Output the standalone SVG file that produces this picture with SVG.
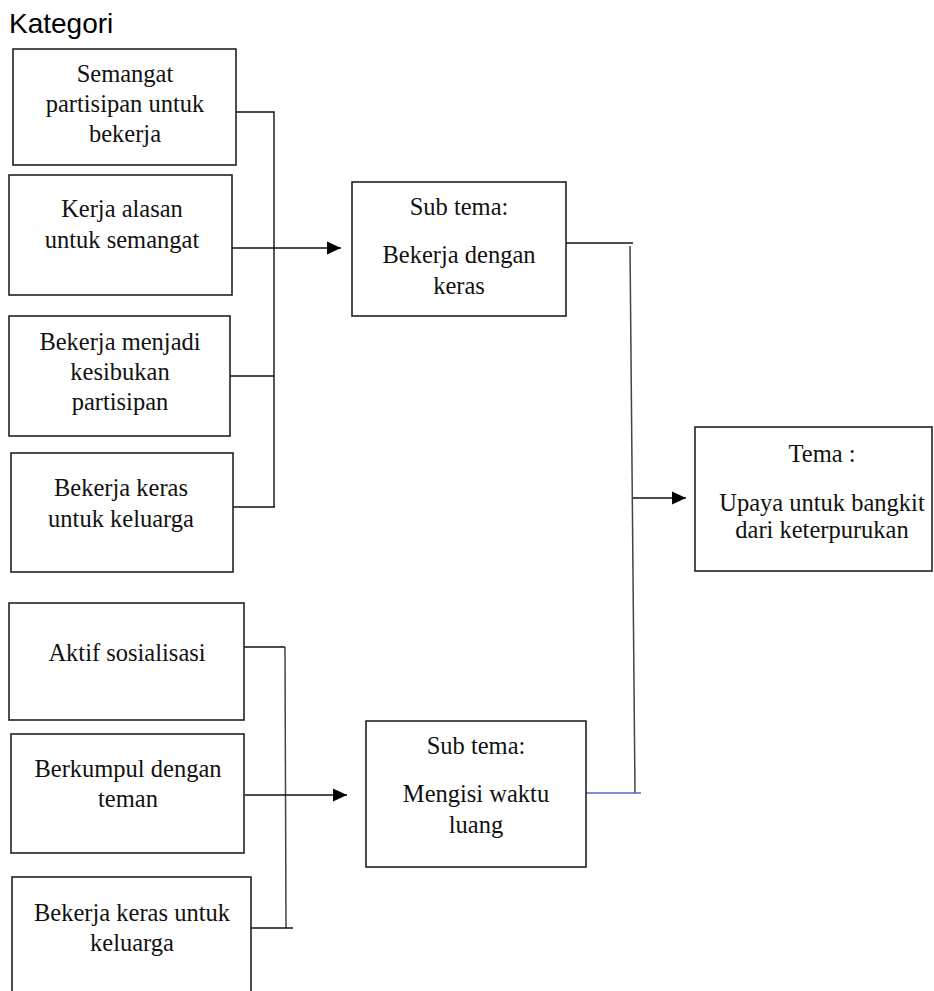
<svg xmlns="http://www.w3.org/2000/svg" width="934" height="991" viewBox="0 0 934 991">
<defs>
<marker id="ah" markerUnits="userSpaceOnUse" markerWidth="14" markerHeight="14" refX="14" refY="7" orient="auto">
<path d="M0,0.5 L14,7 L0,13.5 Z" fill="#000"/>
</marker>
<style>
.box{fill:#fff;stroke:#222;stroke-width:1.6}
.t{font-family:"Liberation Serif","Times New Roman",serif;font-size:24.5px;fill:#111;text-anchor:middle}
.c{fill:none;stroke:#111;stroke-width:1.4}
.g{fill:none;stroke:#444;stroke-width:1.5}
.blue{fill:none;stroke:#4472C4;stroke-width:1.4}
.h{font-family:"Liberation Sans",Arial,sans-serif;font-size:28px;fill:#000}
</style>
</defs>
<rect width="934" height="991" fill="#fff"/>
<text class="h" x="9" y="33">Kategori</text>

<g id="connectors">
<path class="c" d="M232,112 H274 V507"/>
<path class="c" d="M230,376 H274"/>
<path class="c" d="M232,507 H275"/>
<path class="c" d="M231,248 H341" marker-end="url(#ah)"/>
<path class="c" d="M566,243 H633"/>
<path class="g" d="M630,246 L635,793"/>
<path class="blue" d="M586,793 H641"/>
<path class="c" d="M633,498 H686" marker-end="url(#ah)"/>
<path class="c" d="M244,647 H285"/>
<path class="g" d="M285,647 L286,928"/>
<path class="c" d="M251,928 H293"/>
<path class="c" d="M245,795 H347" marker-end="url(#ah)"/>
</g>

<g id="k1">
<rect class="box" x="13" y="49" width="223" height="116"/>
<text class="t" x="125" y="82">Semangat</text>
<text class="t" x="125" y="112">partisipan untuk</text>
<text class="t" x="125" y="142">bekerja</text>
</g>
<g id="k2">
<rect class="box" x="9" y="175" width="223" height="120"/>
<text class="t" x="122" y="217">Kerja alasan</text>
<text class="t" x="122" y="248">untuk semangat</text>
</g>
<g id="k3">
<rect class="box" x="9" y="316" width="221" height="120"/>
<text class="t" x="120" y="350">Bekerja menjadi</text>
<text class="t" x="120" y="380">kesibukan</text>
<text class="t" x="120" y="410">partisipan</text>
</g>
<g id="k4">
<rect class="box" x="11" y="453" width="222" height="119"/>
<text class="t" x="121" y="496">Bekerja keras</text>
<text class="t" x="121" y="527">untuk keluarga</text>
</g>
<g id="k5">
<rect class="box" x="9" y="603" width="235" height="117"/>
<text class="t" x="127" y="661">Aktif sosialisasi</text>
</g>
<g id="k6">
<rect class="box" x="11" y="734" width="233" height="119"/>
<text class="t" x="128" y="777">Berkumpul dengan</text>
<text class="t" x="128" y="807">teman</text>
</g>
<g id="k7">
<rect class="box" x="12" y="877" width="239" height="125"/>
<text class="t" x="132" y="921">Bekerja keras untuk</text>
<text class="t" x="132" y="951">keluarga</text>
</g>
<g id="sub1">
<rect class="box" x="352" y="182" width="214" height="134"/>
<text class="t" x="459" y="215">Sub tema:</text>
<text class="t" x="459" y="263">Bekerja dengan</text>
<text class="t" x="459" y="294">keras</text>
</g>
<g id="sub2">
<rect class="box" x="366" y="721" width="220" height="146"/>
<text class="t" x="476" y="754">Sub tema:</text>
<text class="t" x="476" y="802">Mengisi waktu</text>
<text class="t" x="476" y="833">luang</text>
</g>
<g id="tema">
<rect class="box" x="695" y="427" width="237" height="144"/>
<text class="t" x="822" y="462">Tema :</text>
<text class="t" x="822" y="511">Upaya untuk bangkit</text>
<text class="t" x="822" y="538">dari keterpurukan</text>
</g>
</svg>
